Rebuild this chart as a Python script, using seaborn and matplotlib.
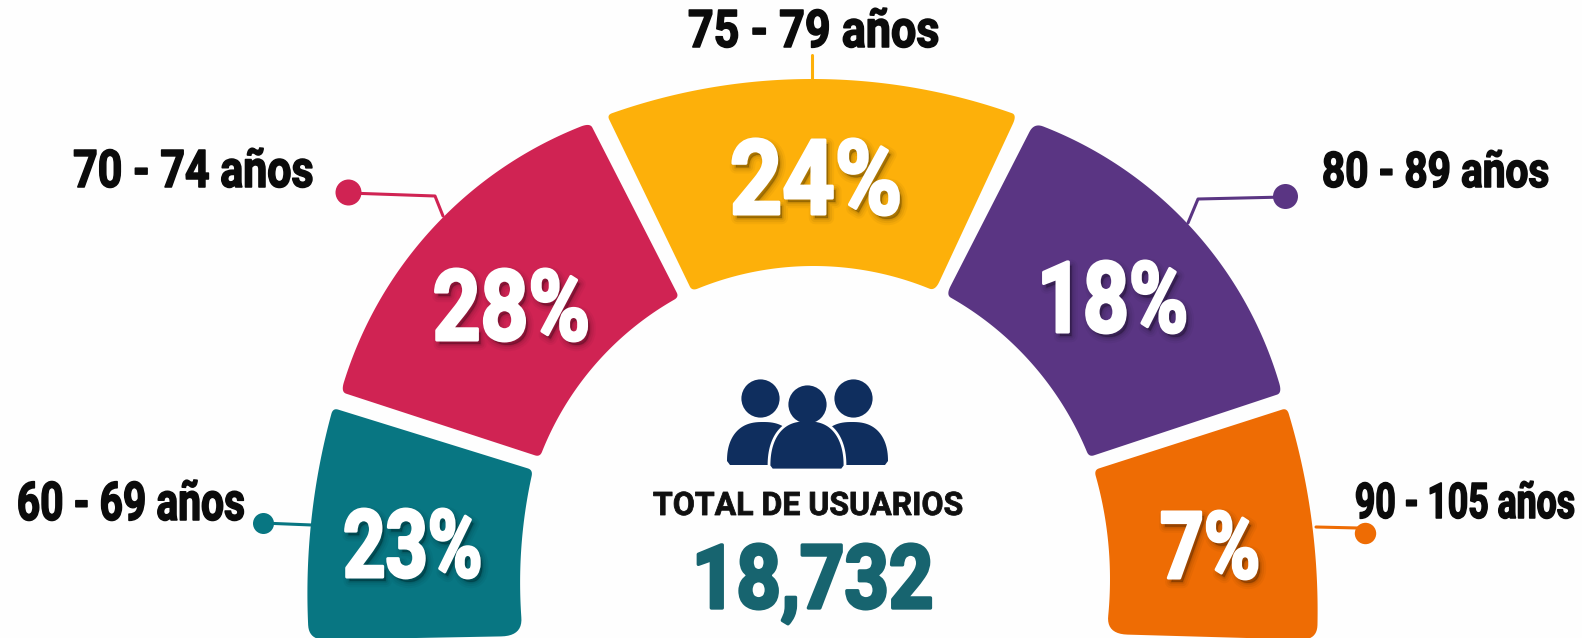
import numpy as np
import matplotlib
matplotlib.use("Agg")
import matplotlib.pyplot as plt
import matplotlib.patheffects as pe
from matplotlib.transforms import Affine2D
import seaborn as sns

# ---- data ----
age_groups = ["60 - 69 años", "70 - 74 años", "75 - 79 años", "80 - 89 años", "90 - 105 años"]
shares = [23, 28, 24, 18, 7]
total_label = "TOTAL DE USUARIOS"
total_users = 18732
hex_colors = ["#087682", "#D02353", "#FDB00A", "#5A3583", "#EE6C04"]

# ---- layout (pixels of the 1582x638 canvas); the bands are not proportional in the original ----
W, H = 1582, 638
HUB = np.array([812.0, 560.0])
outer_from = [(309, 640), (341, 392), (607, 115), (1034, 123), (1287, 408)]
outer_to = [(333, 408), (590, 123), (1017, 115), (1282, 393), (1317, 640)]
inner_from = [(533, 470), (679, 297), (935, 291), (1089, 457), (1106, 634)]
inner_to = [(523, 636), (540, 457), (692, 291), (946, 295), (1094, 470)]
outer_sag = [10, 44, 36, 45, 10]
inner_sag = [7, 19, 25, 19, 9]
corner_r = [(12, 5, 5, 18), (5, 5, 5, 5), (5, 5, 5, 5), (5, 5, 5, 5), (5, 12, 18, 5)]

pct_box = [(343, 482, 577, 67), (433, 590, 340, 70), (730, 902, 214, 74), (1037, 1188, 332, 70), (1160, 1260, 578, 66)]
label_box = [(17, 245, 520, 38), (73, 313, 187, 37), (688, 939, 47, 37), (1322, 1549, 187, 35), (1355, 1575, 518, 35)]
total_label_box = (653, 963, 515, 23)
total_value_box = (692, 933, 608, 63)

leader_pts = [
    [(262, 523), (312, 525)],
    [(348, 193), (435, 196), (443, 216)],
    [(812, 55), (812, 80)],
    [(1285, 197), (1198, 199), (1188, 223)],
    [(1316, 527), (1358, 528)],
]
dot_xy = [(262.5, 523), (348, 192), None, (1285, 196), (1365, 533)]
dot_r = [10.5, 13, 0, 12.5, 10.7]

sns.set_theme(style="white")
plt.rcParams["font.family"] = ["Roboto", "DejaVu Sans"]
palette = sns.color_palette(hex_colors)

fig = plt.figure(figsize=(W / 100, H / 100), dpi=100, facecolor="#FEFEFE")
ax = fig.add_axes([0, 0, 1, 1])
ax.set_xlim(0, W)
ax.set_ylim(H, 0)
ax.axis("off")
renderer = fig.canvas.get_renderer()


class FitGlyphs(pe.AbstractPathEffect):
    """Stretch glyphs vertically about the baseline, thicken them, optional soft shadow."""

    def __init__(self, sy, stroke, shadow=False):
        super().__init__()
        self.sy, self.stroke, self.shadow = sy, stroke, shadow

    def draw_path(self, rend, gc, tpath, affine, rgbFace=None):
        y0 = affine.get_matrix()[1, 2]
        tr = affine + Affine2D().translate(0, -y0).scale(1, self.sy).translate(0, y0)
        if self.shadow:
            for lw, alpha in ((9, 0.035), (6, 0.05), (3, 0.07), (1, 0.10)):
                g = rend.new_gc()
                g.copy_properties(gc)
                g.set_foreground((0, 0, 0))
                g.set_alpha(alpha)
                g.set_linewidth(lw)
                g.set_joinstyle("round")
                rend.draw_path(g, tpath, tr + Affine2D().translate(3, -4), (0, 0, 0))
                g.restore()
        g = rend.new_gc()
        g.copy_properties(gc)
        g.set_foreground(rgbFace[:3])
        g.set_linewidth(self.stroke)
        g.set_joinstyle("round")
        rend.draw_path(g, tpath, tr, rgbFace)
        g.restore()


def fit_text(box, string, color, stroke, shadow=False):
    x0, x1, baseline, height = box
    t = ax.text((x0 + x1) / 2, baseline, string, color=color, fontsize=40, fontweight="bold",
                ha="center", va="baseline", zorder=6)
    fs = 40 * (x1 - x0) / t.get_window_extent(renderer).width
    t.set_fontsize(fs)
    t.set_path_effects([FitGlyphs(height / (0.711 * fs * 100 / 72), stroke, shadow)])
    return t


def bow(p0, p1, sag, n=80):
    p0, p1 = np.asarray(p0, float), np.asarray(p1, float)
    chord = p1 - p0
    half = np.hypot(*chord) / 2
    normal = np.array([chord[1], -chord[0]]) / (2 * half)
    mid = (p0 + p1) / 2
    if normal @ (mid - HUB) < 0:
        normal = -normal
    R = (half ** 2 + sag ** 2) / (2 * sag)
    centre = mid - normal * (R - sag)
    a0 = np.arctan2(*(p0 - centre)[::-1])
    a1 = np.arctan2(*(p1 - centre)[::-1])
    d = (a1 - a0 + np.pi) % (2 * np.pi) - np.pi
    ang = a0 + d * np.linspace(0, 1, n)
    return centre + R * np.column_stack([np.cos(ang), np.sin(ang)])


def fillet(edges, radii):
    out = []
    m = len(edges)
    for i in range(m):
        e = edges[i]
        d = np.r_[0, np.cumsum(np.hypot(*np.diff(e, axis=0).T))]
        rs, re = radii[i], radii[(i + 1) % m]
        out.append(e[(d >= rs) & (d <= d[-1] - re)])
        nxt = edges[(i + 1) % m]
        dn = np.r_[0, np.cumsum(np.hypot(*np.diff(nxt, axis=0).T))]
        p0 = e[d <= d[-1] - re][-1]
        p2 = nxt[dn >= re][0]
        t = np.linspace(0, 1, 12)[:, None]
        out.append((1 - t) ** 2 * p0 + 2 * t * (1 - t) * e[-1] + t ** 2 * p2)
    return np.vstack(out)


for i, share in enumerate(shares):
    top = bow(outer_from[i], outer_to[i], outer_sag[i])
    low = bow(inner_from[i], inner_to[i], inner_sag[i])
    poly = fillet([top, np.linspace(top[-1], low[0], 40), low, np.linspace(low[-1], top[0], 40)], corner_r[i])
    ax.fill(poly[:, 0], poly[:, 1], color=palette[i], lw=0, zorder=2)

    ax.plot(*zip(*leader_pts[i]), color=palette[i], lw=2.2, zorder=1, solid_capstyle="round")
    if dot_xy[i] is not None:
        ax.plot(*dot_xy[i], "o", color=palette[i], ms=2 * dot_r[i] * 0.72, mew=0, zorder=3)

    fit_text(pct_box[i], f"{share}%", "white", 2.2, shadow=True)
    fit_text(label_box[i], age_groups[i], "#0B0B0B", 1.1)

# people icon
navy = "#0F2E5E"


def body(cx, half, top, bottom):
    t = np.linspace(0, np.pi, 60)
    x = cx + half * np.sign(np.cos(t)) * np.abs(np.cos(t)) ** 0.8
    y = bottom - 4 - (bottom - 4 - top) * np.sin(t) ** 0.9
    return np.r_[x, cx - half + 3, cx + half - 3], np.r_[y, bottom, bottom]


for cx, head_x in ((763, 760), (852, 853)):
    ax.fill(*body(cx, 36, 422, 465), color=navy, lw=0, zorder=3)
    ax.plot(head_x, 398, "o", color=navy, ms=27.5, mew=0, zorder=3)
ax.fill(*body(807, 38, 420, 470), facecolor=navy, edgecolor="white", lw=2, zorder=4)
ax.plot(807, 404, "o", color=navy, ms=27.5, mew=0, zorder=4)

fit_text(total_label_box, total_label, "#101010", 0.6)
fit_text(total_value_box, f"{total_users:,}", "#17646F", 2.4)

fig.savefig("out.png", dpi=100, facecolor=fig.get_facecolor())
